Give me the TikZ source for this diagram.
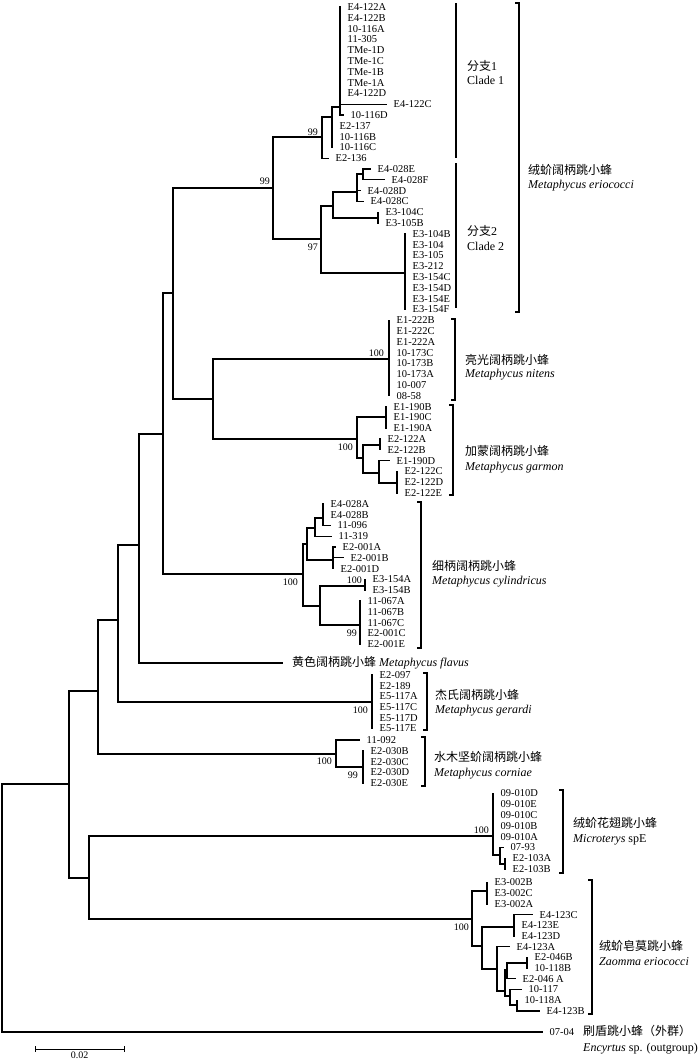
\documentclass[tikz,border=0pt]{standalone}
\usepackage{fontspec}
\setmainfont{Liberation Serif}
\newfontfamily\cjk{Noto Sans CJK SC}
\newcommand\tipf{\fontsize{10.5}{12}\selectfont}
\newcommand\spf{\fontsize{12}{14}\selectfont}
\newcommand\bsf{\fontsize{10}{12}\selectfont}
\begin{document}
\begin{tikzpicture}[x=1pt,y=-1pt,
  br/.style={line width=1.2pt, line cap=rect, line join=miter},
  tip/.style={anchor=west, inner xsep=7.5pt, inner ysep=0pt, font=\tipf},
  bs/.style={anchor=east, inner sep=0pt, font=\bsf},
  grp/.style={line width=1.1pt},
  sp/.style={anchor=base west, inner sep=0pt, font=\spf}]
\useasboundingbox (0,0) rectangle (700,1060);
% ---------- internal nodes ----------
\coordinate (R) at (2,908);
\coordinate (N69) at (69,784);
\coordinate (N89) at (89,878);
\coordinate (N98) at (98,691);
\coordinate (N118) at (118,620);
\coordinate (N139) at (139,545);
\coordinate (N163) at (163,434);
\coordinate (N173) at (173,293);
\coordinate (N213) at (213,399);
\coordinate (Eri) at (273,188);
\coordinate (A0) at (322,137);
\coordinate (A1) at (332,117);
\coordinate (A2) at (340,107);
\coordinate (B0) at (321,239);
\coordinate (B1) at (333,206);
\coordinate (B2) at (357,192);
\coordinate (B3) at (363,174);
\coordinate (B5) at (378,218);
\coordinate (B4) at (405,273);
\coordinate (Nit) at (389,359);
\coordinate (Gar) at (357,439);
\coordinate (G1) at (386,417);
\coordinate (G2) at (363,458);
\coordinate (G3) at (380,445);
\coordinate (G4) at (379,473);
\coordinate (G5) at (397,483);
\coordinate (Cyl) at (303,574);
\coordinate (C1) at (307,544);
\coordinate (C2) at (315,528);
\coordinate (C3) at (323,518);
\coordinate (C4) at (333,560);
\coordinate (C5) at (320,606);
\coordinate (C6) at (365,586);
\coordinate (C7) at (360,625);
\coordinate (Ger) at (372,702);
\coordinate (Cor) at (336,754);
\coordinate (K1) at (363,767);
\coordinate (Mic) at (493,836);
\coordinate (M1) at (500,855);
\coordinate (M2) at (505,864);
\coordinate (Zao) at (472,919);
\coordinate (Z1) at (487,891);
\coordinate (Z3) at (482,946);
\coordinate (Z2) at (514,927);
\coordinate (Z4) at (497,969);
\coordinate (Z5) at (505,991);
\coordinate (Z6) at (507,970);
\coordinate (Z7) at (510,996);
\coordinate (Z8) at (527,963);
\coordinate (Z9) at (517,1005);
% ---------- tips ----------
\foreach \n/\x/\y in {E4-122A/340/7, E4-122B/340/17.8, 10-116A/340/28.6, 11-305/340/39.4,
  TMe-1D/340/50.2, TMe-1C/340/61, TMe-1B/340/71.8, TMe-1A/340/82.6, E4-122D/340/93.4,
  E4-122C/386/104.2, 10-116D/343/115, E2-137/332/125.8, 10-116B/332/136.6, 10-116C/332/147.4,
  E2-136/328/158.2,
  E4-028E/370/169, E4-028F/384/179.8, E4-028D/360/190.6, E4-028C/363/201.4,
  E3-104C/378/212.2, E3-105B/378/223,
  E3-104B/405/233.8, E3-104/405/244.6, E3-105/405/255.4, E3-212/405/266.2,
  E3-154C/405/277, E3-154D/405/287.8, E3-154E/405/298.6, E3-154F/405/309.4,
  E1-222B/389/320.2, E1-222C/389/331, E1-222A/389/341.8, 10-173C/389/352.6,
  10-173B/389/363.4, 10-173A/389/374.2, 10-007/389/385, 08-58/389/395.8,
  E1-190B/386/406.6, E1-190C/386/417.4, E1-190A/386/428.2, E2-122A/380/439,
  E2-122B/380/449.8, E1-190D/389/460.6, E2-122C/397/471.4, E2-122D/397/482.2, E2-122E/397/493,
  E4-028A/323/503.8, E4-028B/323/514.6, 11-096/330/525.4, 11-319/331/536.2,
  E2-001A/335/547, E2-001B/343/557.8, E2-001D/333/568.6,
  E3-154A/365/579.4, E3-154B/365/590.2,
  11-067A/360/601, 11-067B/360/611.8, 11-067C/360/622.6, E2-001C/360/633.4, E2-001E/360/644.2,
  E2-097/372/675, E2-189/372/685.7, E5-117A/372/696.4, E5-117C/372/707.1, E5-117D/372/717.8,
  E5-117E/372/728.5,
  11-092/359/740, E2-030B/363/750.8, E2-030C/363/761.6, E2-030D/363/772.4, E2-030E/363/783.2,
  09-010D/493/793.5, 09-010E/493/804.3, 09-010C/493/815.1, 09-010B/493/825.9, 09-010A/493/836.7,
  07-93/503/847.5, E2-103A/505/858.3, E2-103B/505/869.1,
  E3-002B/487/882.5, E3-002C/487/893.2, E3-002A/487/903.9,
  E4-123C/532/914.6, E4-123E/514/925.3, E4-123D/514/936, E4-123A/509/946.7,
  E2-046B/527/957.4, 10-118B/527/968.1, 10-117/521/989.5, 10-118A/517/1000.2, E4-123B/539/1010.9,
  07-04/542/1032}
  \node[tip] (t\n) at (\x,\y) {\n};
\node[tip] (tE2-046A) at (515,978.8) {E2-046 A};
\node[tip, inner xsep=10pt, font=\spf] (tflavus) at (282,663)
  {{\cjk 黄色阔柄跳小蜂} \textit{Metaphycus flavus}};
% ---------- branches between internal nodes ----------
\foreach \p/\c in {R/N69, N69/N98, N69/N89, N89/Mic, N89/Zao, N98/N118, N98/Cor,
  N118/N139, N118/Ger, N139/N163, N163/N173, N163/Cyl, N173/Eri, N173/N213,
  N213/Nit, N213/Gar, Eri/A0, Eri/B0, A0/A1, A1/A2, B0/B1, B0/B4, B1/B2, B1/B5, B2/B3,
  Gar/G1, Gar/G2, G2/G3, G2/G4, G4/G5, Cyl/C1, Cyl/C5, C1/C2, C1/C4, C2/C3, C5/C6, C5/C7,
  Cor/K1, Mic/M1, M1/M2, Zao/Z1, Zao/Z3, Z3/Z2, Z3/Z4, Z4/Z5, Z5/Z6, Z5/Z7, Z6/Z8, Z7/Z9}
  \draw[br] (\p) |- (\c);
% ---------- branches to tips ----------
\foreach \p/\c in {R/07-04, N139/flavus, A0/E2-136,
  A1/E2-137, A1/10-116B, A1/10-116C,
  A2/E4-122A, A2/E4-122B, A2/10-116A, A2/11-305, A2/TMe-1D, A2/TMe-1C, A2/TMe-1B, A2/TMe-1A,
  A2/E4-122D, A2/E4-122C, A2/10-116D,
  B3/E4-028E, B3/E4-028F, B2/E4-028D, B2/E4-028C, B5/E3-104C, B5/E3-105B,
  B4/E3-104B, B4/E3-104, B4/E3-105, B4/E3-212, B4/E3-154C, B4/E3-154D, B4/E3-154E, B4/E3-154F,
  Nit/E1-222B, Nit/E1-222C, Nit/E1-222A, Nit/10-173C, Nit/10-173B, Nit/10-173A, Nit/10-007, Nit/08-58,
  G1/E1-190B, G1/E1-190C, G1/E1-190A, G3/E2-122A, G3/E2-122B, G4/E1-190D,
  G5/E2-122C, G5/E2-122D, G5/E2-122E,
  C3/E4-028A, C3/E4-028B, C3/11-096, C2/11-319, C4/E2-001A, C4/E2-001B, C4/E2-001D,
  C6/E3-154A, C6/E3-154B, C7/11-067A, C7/11-067B, C7/11-067C, C7/E2-001C, C7/E2-001E,
  Ger/E2-097, Ger/E2-189, Ger/E5-117A, Ger/E5-117C, Ger/E5-117D, Ger/E5-117E,
  Cor/11-092, K1/E2-030B, K1/E2-030C, K1/E2-030D, K1/E2-030E,
  Mic/09-010D, Mic/09-010E, Mic/09-010C, Mic/09-010B, Mic/09-010A, M1/07-93, M2/E2-103A, M2/E2-103B,
  Z1/E3-002B, Z1/E3-002C, Z1/E3-002A, Z2/E4-123C, Z2/E4-123E, Z2/E4-123D, Z4/E4-123A,
  Z8/E2-046B, Z8/10-118B, Z6/E2-046A, Z7/10-117, Z9/10-118A, Z9/E4-123B}
  \draw[br] (\p) |- (t\c.west);
% ---------- bootstrap values ----------
\node[bs] (bs1) at (270,181) {99};
\node[bs] (bs2) at (318,132) {99};
\node[bs] (bs3) at (318,247) {97};
\node[bs] (bs4) at (384,353) {100};
\node[bs] (bs5) at (353,447) {100};
\node[bs] (bs6) at (298,582) {100};
\node[bs] (bs7) at (362,580) {100};
\node[bs] (bs8) at (357,633) {99};
\node[bs] (bs9) at (368,710) {100};
\node[bs] (bs10) at (332,761) {100};
\node[bs] (bs11) at (358,775) {99};
\node[bs] (bs12) at (489,830) {100};
\node[bs] (bs13) at (469,927) {100};
% ---------- group brackets ----------
\draw[grp] (456,3) -- (456,158);
\draw[grp] (456,163) -- (456,308);
\draw[grp] (515,3) -- (519,3) -- (519,312) -- (515,312);
\draw[grp] (451,319) -- (455,319) -- (455,400) -- (451,400);
\draw[grp] (449,405) -- (453,405) -- (453,495) -- (449,495);
\draw[grp] (417,502) -- (421,502) -- (421,648) -- (417,648);
\draw[grp] (423,673) -- (427,673) -- (427,730) -- (423,730);
\draw[grp] (421,737) -- (425,737) -- (425,786) -- (421,786);
\draw[grp] (559,790) -- (563,790) -- (563,873) -- (559,873);
\draw[grp] (588,880) -- (592,880) -- (592,1014) -- (588,1014);
% ---------- group labels ----------
\node[sp] (c1a) at (467,70) {{\cjk 分支}1};
\node[sp] (c1b) at (467,84) {Clade 1};
\node[sp] (c2a) at (467,235) {{\cjk 分支}2};
\node[sp] (c2b) at (467,250) {Clade 2};
\node[sp] (eria) at (528,174) {\cjk 绒蚧阔柄跳小蜂};
\node[sp] (erib) at (528,188) {\textit{Metaphycus eriococci}};
\node[sp] (nita) at (465,364) {\cjk 亮光阔柄跳小蜂};
\node[sp] (nitb) at (465,377) {\textit{Metaphycus nitens}};
\node[sp] (gara) at (465,455) {\cjk 加蒙阔柄跳小蜂};
\node[sp] (garb) at (465,470) {\textit{Metaphycus garmon}};
\node[sp] (cyla) at (432,570) {\cjk 细柄阔柄跳小蜂};
\node[sp] (cylb) at (432,584) {\textit{Metaphycus cylindricus}};
\node[sp] (gera) at (435,699) {\cjk 杰氏阔柄跳小蜂};
\node[sp] (gerb) at (435,713) {\textit{Metaphycus gerardi}};
\node[sp] (cora) at (434,761) {\cjk 水木坚蚧阔柄跳小蜂};
\node[sp] (corb) at (434,776) {\textit{Metaphycus corniae}};
\node[sp] (mica) at (573,827) {\cjk 绒蚧花翅跳小蜂};
\node[sp] (micb) at (573,842) {\textit{Microterys} spE};
\node[sp] (zaoa) at (599,950) {\cjk 绒蚧皂莫跳小蜂};
\node[sp] (zaob) at (599,965) {\textit{Zaomma eriococci}};
\node[sp] (outa) at (583,1035) {\cjk 刷盾跳小蜂（外群）};
\node[sp] (outb) at (583,1051) {\textit{Encyrtus} sp. (outgroup)};
% ---------- scale bar ----------
\draw[line width=1pt] (35,1046) -- (35,1052) (35,1049) -- (124,1049) (124,1046) -- (124,1052);
\node[font=\bsf, inner sep=0pt] (scale) at (79.5,1055) {0.02};
\end{tikzpicture}
\end{document}
